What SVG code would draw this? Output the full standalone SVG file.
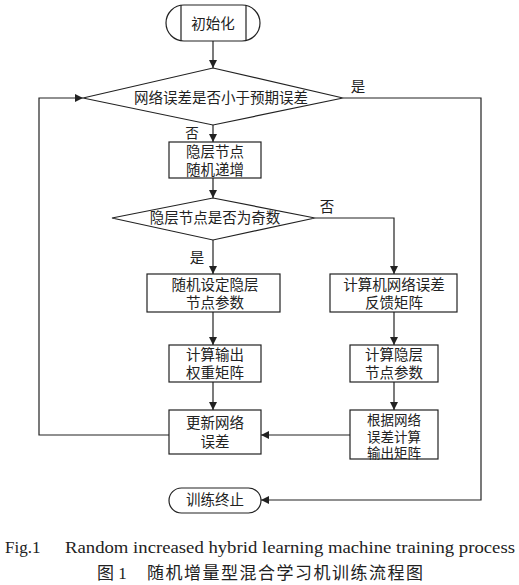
<svg xmlns="http://www.w3.org/2000/svg" width="519" height="585" viewBox="0 0 519 585">
<style>
.s{fill:#fff;stroke:#222;stroke-width:1.2}
.l{fill:none;stroke:#222;stroke-width:1.2}
.t{font-family:"Liberation Serif","Noto Sans CJK SC",serif;font-size:14.5px;fill:#222;text-anchor:middle}
.m{font-size:13.5px}
.c{font-family:"Liberation Serif","Noto Sans CJK SC",serif;font-size:17px;fill:#222}
</style>
<defs>
<marker id="a" viewBox="0 0 10 10" refX="10" refY="5" markerWidth="8" markerHeight="8" markerUnits="userSpaceOnUse" orient="auto">
<path d="M0,0 L10,5 L0,10 z" fill="#222"/>
</marker>
</defs>
<rect width="519" height="585" fill="#fff"/>
<g id="connectors">
<path class="l" d="M213,41 V68" marker-end="url(#a)"/>
<path class="l" d="M213,125 V142" marker-end="url(#a)"/>
<path class="l" d="M213,178 V198" marker-end="url(#a)"/>
<path class="l" d="M213,240 V274" marker-end="url(#a)"/>
<path class="l" d="M315,218 H394 V274" marker-end="url(#a)"/>
<path class="l" d="M213,312 V345" marker-end="url(#a)"/>
<path class="l" d="M213,382 V410" marker-end="url(#a)"/>
<path class="l" d="M394,312 V345" marker-end="url(#a)"/>
<path class="l" d="M394,382 V410" marker-end="url(#a)"/>
<path class="l" d="M350,435 H261" marker-end="url(#a)"/>
<path class="l" d="M169,435 H39 V98 H83" marker-end="url(#a)"/>
<path class="l" d="M343,98 H481 V500 H261" marker-end="url(#a)"/>
<text class="t" x="358" y="92">是</text>
<text class="t m" x="192" y="138">否</text>
<text class="t" x="327" y="212">否</text>
<text class="t" x="197" y="263">是</text>
</g>
<g id="start">
<rect class="s" x="166" y="5" width="94" height="36" rx="18"/>
<path class="l" d="M181,5 V41 M246,5 V41"/>
<text class="t" x="213" y="29">初始化</text>
</g>
<g id="d1">
<polygon class="s" points="213,68 343,98 213,125 83,98"/>
<text class="t" x="221" y="103">网络误差是否小于预期误差</text>
</g>
<g id="n1">
<rect class="s" x="169" y="142" width="92" height="36"/>
<text class="t"><tspan x="215" y="157">隐层节点</tspan><tspan x="215" y="175">随机递增</tspan></text>
</g>
<g id="d2">
<polygon class="s" points="213,198 315,218 213,240 112,218"/>
<text class="t" x="215" y="223">隐层节点是否为奇数</text>
</g>
<g id="n2">
<rect class="s" x="147" y="274" width="133" height="38"/>
<text class="t"><tspan x="215" y="290">随机设定隐层</tspan><tspan x="215" y="308">节点参数</tspan></text>
</g>
<g id="n3">
<rect class="s" x="330" y="274" width="127" height="38"/>
<text class="t"><tspan x="394" y="290">计算机网络误差</tspan><tspan x="394" y="308">反馈矩阵</tspan></text>
</g>
<g id="n4">
<rect class="s" x="169" y="345" width="92" height="37"/>
<text class="t"><tspan x="215" y="360">计算输出</tspan><tspan x="215" y="378">权重矩阵</tspan></text>
</g>
<g id="n5">
<rect class="s" x="350" y="345" width="88" height="37"/>
<text class="t"><tspan x="394" y="360">计算隐层</tspan><tspan x="394" y="378">节点参数</tspan></text>
</g>
<g id="n6">
<rect class="s" x="169" y="410" width="92" height="44"/>
<text class="t"><tspan x="215" y="428">更新网络</tspan><tspan x="215" y="447">误差</tspan></text>
</g>
<g id="n7">
<rect class="s" x="350" y="410" width="88" height="49"/>
<text class="t m"><tspan x="394" y="425">根据网络</tspan><tspan x="394" y="441.5">误差计算</tspan><tspan x="394" y="458">输出矩阵</tspan></text>
</g>
<g id="end">
<rect class="s" x="169" y="488" width="92" height="25" rx="12.5"/>
<text class="t" x="215" y="505">训练终止</text>
</g>
<g id="caption">
<text class="c" x="5" y="553">Fig.1</text>
<text class="c" x="65" y="553" textLength="450" lengthAdjust="spacingAndGlyphs">Random increased hybrid learning machine training process</text>
<text class="c" x="97" y="579">图 1</text>
<text class="c" x="147" y="579" textLength="276" lengthAdjust="spacing">随机增量型混合学习机训练流程图</text>
</g>
</svg>
